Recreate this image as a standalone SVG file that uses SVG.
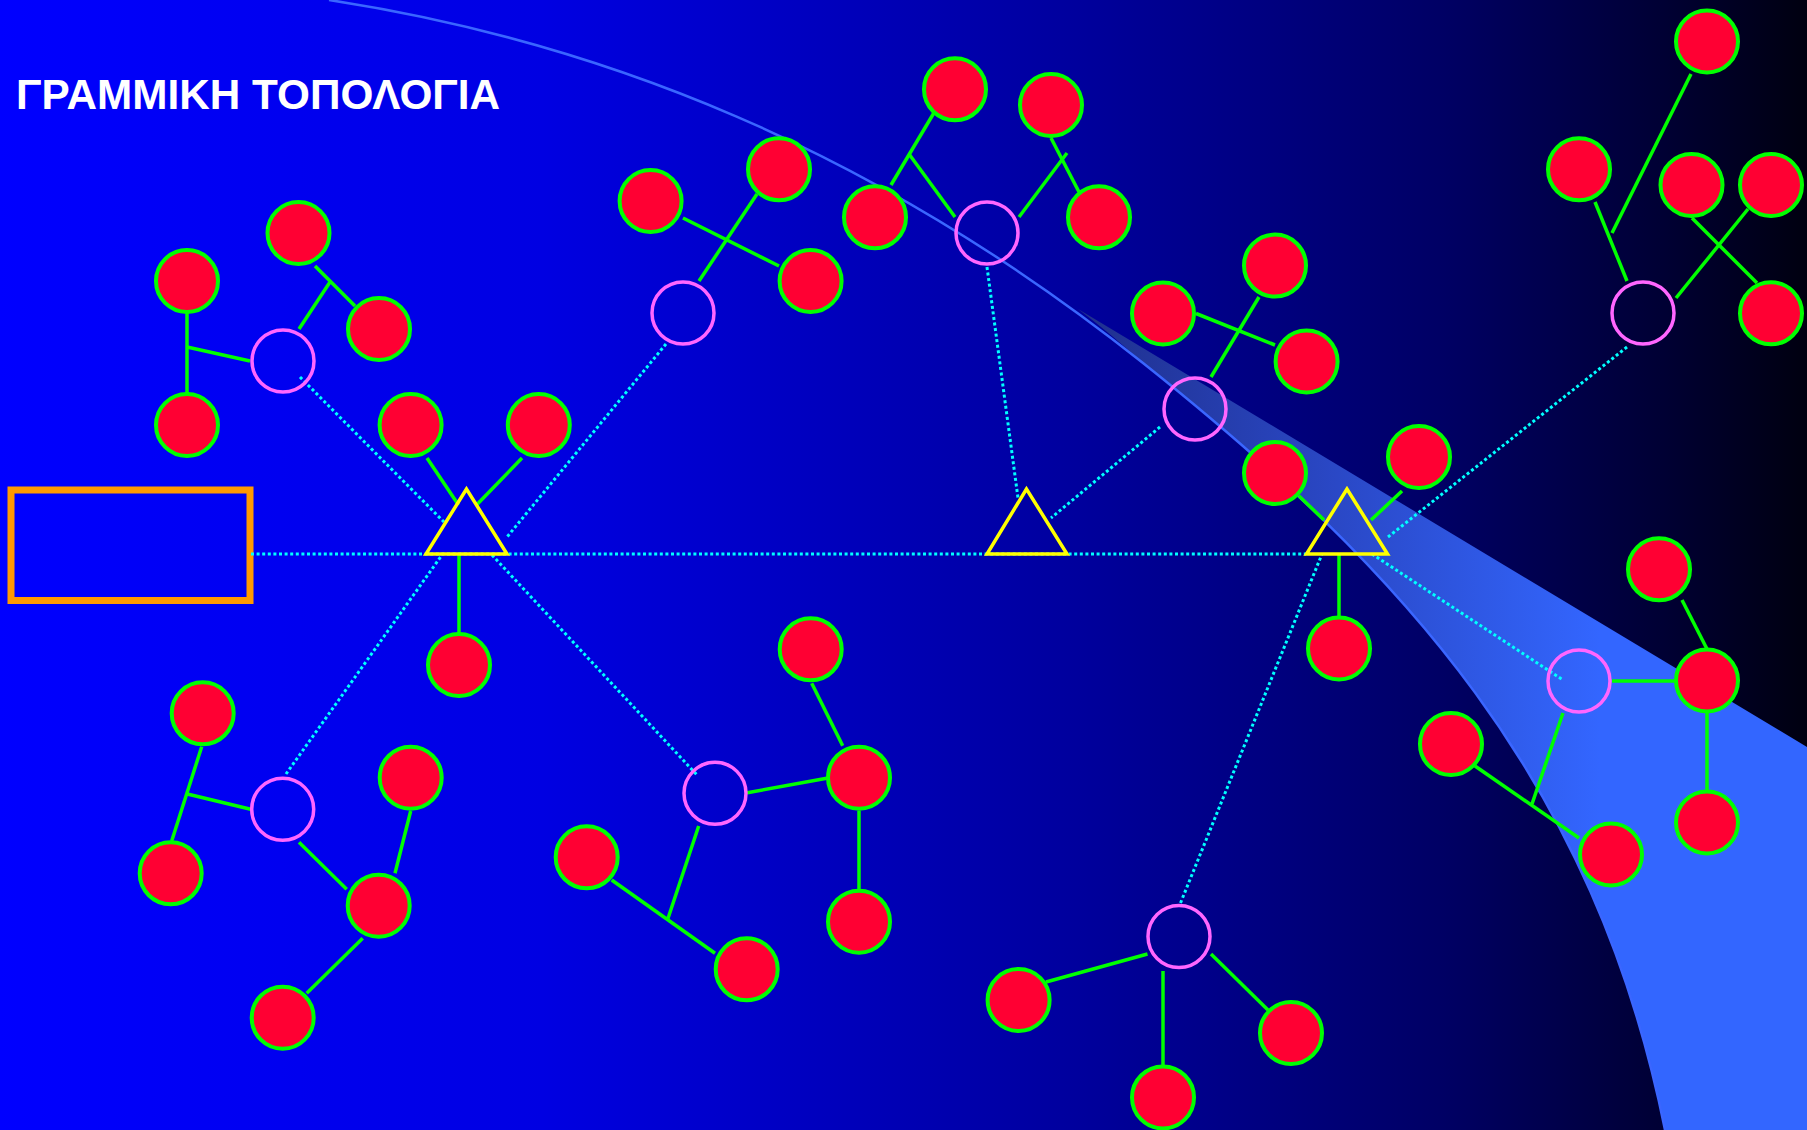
<svg xmlns="http://www.w3.org/2000/svg" width="1807" height="1130" viewBox="0 0 1807 1130">
<defs>
<linearGradient id="bg" x1="0" y1="0" x2="1807" y2="0" gradientUnits="userSpaceOnUse">
<stop offset="0" stop-color="#0000ff"/>
<stop offset="0.3" stop-color="#0000e2"/>
<stop offset="0.6" stop-color="#00009c"/>
<stop offset="0.8" stop-color="#000064"/>
<stop offset="0.92" stop-color="#000034"/>
<stop offset="1" stop-color="#000010"/>
</linearGradient>
<linearGradient id="band" x1="1075" y1="0" x2="1600" y2="0" gradientUnits="userSpaceOnUse">
<stop offset="0" stop-color="#1f2f8c"/>
<stop offset="0.5" stop-color="#2a48c6"/>
<stop offset="1" stop-color="#3366ff"/>
</linearGradient>
<style>
.red{fill:#ff0033;stroke:#00ff00;stroke-width:4}
.hub{fill:none;stroke:#ff66ff;stroke-width:3.5}
.tri{fill:none;stroke:#ffff00;stroke-width:3.5;stroke-linejoin:miter}
.g{stroke:#00ff00;stroke-width:3.5;fill:none}
.d{stroke:#00ffff;stroke-width:3;stroke-dasharray:3 2.6;fill:none}
.title{font-family:"Liberation Sans",Arial,sans-serif;font-weight:bold;font-size:43px;fill:#ffffff}
</style>
</defs>
<rect x="0" y="0" width="1807" height="1130" fill="url(#bg)"/>
<path d="M1078,309 Q1111,334 1143,363 C1403,570 1595,780 1665,1130 L1807,1130 L1807,747 Z" fill="url(#band)"/>
<path d="M329,0 C600,41.7 872,147.5 1143,363 C1403,570 1595,780 1665,1130" fill="none" stroke="#3a66ff" stroke-width="2.5"/>
<text class="title" x="16" y="109" textLength="484" lengthAdjust="spacingAndGlyphs">ΓΡΑΜΜΙΚΗ ΤΟΠΟΛΟΓΙΑ</text>
<g id="server"><rect x="11" y="490" width="239" height="110.5" fill="none" stroke="#ff9900" stroke-width="7"/></g>
<g id="connectors">
<line class="d" x1="251" y1="554" x2="1306" y2="554"/>
<line class="d" x1="300" y1="377" x2="444" y2="522"/>
<line class="d" x1="666" y1="344" x2="507" y2="537"/>
<line class="d" x1="286" y1="774" x2="442" y2="555"/>
<line class="d" x1="492" y1="555" x2="697" y2="775"/>
<line class="d" x1="987" y1="267" x2="1018" y2="498"/>
<line class="d" x1="1160" y1="427" x2="1051" y2="518"/>
<line class="d" x1="1627" y1="347" x2="1388" y2="537"/>
<line class="d" x1="1372" y1="554" x2="1563" y2="680"/>
<line class="d" x1="1180.5" y1="903" x2="1322" y2="554"/>
<line class="g" x1="187" y1="312" x2="187" y2="394"/>
<line class="g" x1="187" y1="347" x2="250" y2="361"/>
<line class="g" x1="315" y1="266" x2="355" y2="306"/>
<line class="g" x1="330" y1="282" x2="299" y2="329"/>
<line class="g" x1="683" y1="218" x2="779" y2="266"/>
<line class="g" x1="757" y1="194" x2="699" y2="281"/>
<line class="g" x1="938" y1="106" x2="891" y2="185"/>
<line class="g" x1="909" y1="154" x2="955" y2="217"/>
<line class="g" x1="1051" y1="138" x2="1079" y2="192"/>
<line class="g" x1="1067" y1="153" x2="1019" y2="217"/>
<line class="g" x1="1196" y1="313.5" x2="1275" y2="345"/>
<line class="g" x1="1259" y1="297" x2="1211" y2="377"/>
<line class="g" x1="1299" y1="496" x2="1324" y2="520"/>
<line class="g" x1="1402" y1="491" x2="1371" y2="520"/>
<line class="g" x1="1339" y1="554" x2="1339" y2="618"/>
<line class="g" x1="1691" y1="74" x2="1612" y2="233"/>
<line class="g" x1="1595" y1="202" x2="1627" y2="281"/>
<line class="g" x1="1692" y1="218" x2="1757" y2="283"/>
<line class="g" x1="1748" y1="209" x2="1676" y2="298"/>
<line class="g" x1="1612" y1="681" x2="1676" y2="681"/>
<line class="g" x1="1682" y1="600" x2="1707" y2="649"/>
<line class="g" x1="1707" y1="712" x2="1707" y2="791"/>
<line class="g" x1="1563" y1="713" x2="1532" y2="804"/>
<line class="g" x1="1475" y1="766" x2="1579" y2="838"/>
<line class="g" x1="1147.5" y1="954" x2="1046" y2="982"/>
<line class="g" x1="1163" y1="971" x2="1163" y2="1066"/>
<line class="g" x1="1211" y1="954" x2="1268" y2="1010"/>
<line class="g" x1="427" y1="458" x2="458.5" y2="505"/>
<line class="g" x1="522" y1="458" x2="476.5" y2="505"/>
<line class="g" x1="459" y1="554" x2="459" y2="633"/>
<line class="g" x1="201.7" y1="746.7" x2="171.7" y2="841"/>
<line class="g" x1="187.3" y1="794" x2="250.7" y2="809.3"/>
<line class="g" x1="299" y1="842.3" x2="346.7" y2="889.3"/>
<line class="g" x1="410.7" y1="811" x2="395" y2="873.3"/>
<line class="g" x1="362.7" y1="938.3" x2="306.7" y2="993.3"/>
<line class="g" x1="811.7" y1="683.3" x2="842.7" y2="745.7"/>
<line class="g" x1="747.3" y1="792.7" x2="826.7" y2="778.3"/>
<line class="g" x1="859" y1="810.7" x2="859" y2="889"/>
<line class="g" x1="698.7" y1="826" x2="667.7" y2="919.3"/>
<line class="g" x1="611.7" y1="880" x2="715" y2="953.3"/>
</g>
<g id="t1"><polygon class="tri" points="466.5,489 426,554 507,554"/></g>
<g id="t2"><polygon class="tri" points="1026.5,489 987,554 1067,554"/></g>
<g id="t3"><polygon class="tri" points="1347,489 1306.5,554 1387.5,554"/></g>
<g id="h1"><circle class="hub" cx="283" cy="361" r="31"/></g>
<g id="h2"><circle class="hub" cx="683" cy="313" r="31"/></g>
<g id="h3"><circle class="hub" cx="987" cy="233" r="31"/></g>
<g id="h4"><circle class="hub" cx="1195" cy="409" r="31"/></g>
<g id="h5"><circle class="hub" cx="1643" cy="313" r="31"/></g>
<g id="h6"><circle class="hub" cx="1579" cy="681" r="31"/></g>
<g id="h7"><circle class="hub" cx="1179" cy="936.5" r="31"/></g>
<g id="h8"><circle class="hub" cx="282.7" cy="809.3" r="31"/></g>
<g id="h9"><circle class="hub" cx="715" cy="793.3" r="31"/></g>
<g id="a1"><circle class="red" cx="187" cy="281" r="31"/></g>
<g id="a2"><circle class="red" cx="298.5" cy="233" r="31"/></g>
<g id="a3"><circle class="red" cx="379" cy="329" r="31"/></g>
<g id="a4"><circle class="red" cx="187" cy="425" r="31"/></g>
<g id="b1"><circle class="red" cx="650.6" cy="201" r="31"/></g>
<g id="b2"><circle class="red" cx="779" cy="169.3" r="31"/></g>
<g id="b3"><circle class="red" cx="810.6" cy="281" r="31"/></g>
<g id="c1"><circle class="red" cx="955" cy="89.3" r="31"/></g>
<g id="c2"><circle class="red" cx="875" cy="217.3" r="31"/></g>
<g id="c3"><circle class="red" cx="1051" cy="105" r="31"/></g>
<g id="c4"><circle class="red" cx="1099" cy="217.3" r="31"/></g>
<g id="d1"><circle class="red" cx="1163" cy="313.5" r="31"/></g>
<g id="d2"><circle class="red" cx="1275" cy="265.6" r="31"/></g>
<g id="d3"><circle class="red" cx="1306.6" cy="361.5" r="31"/></g>
<g id="e1"><circle class="red" cx="1275" cy="473" r="31"/></g>
<g id="e2"><circle class="red" cx="1419" cy="457" r="31"/></g>
<g id="e3"><circle class="red" cx="1339" cy="648.5" r="31"/></g>
<g id="f1"><circle class="red" cx="1707" cy="41.5" r="31"/></g>
<g id="f2"><circle class="red" cx="1579" cy="169.3" r="31"/></g>
<g id="f3"><circle class="red" cx="1691.5" cy="185" r="31"/></g>
<g id="f4"><circle class="red" cx="1771" cy="185" r="31"/></g>
<g id="f5"><circle class="red" cx="1771" cy="313.3" r="31"/></g>
<g id="g1"><circle class="red" cx="1659" cy="569.3" r="31"/></g>
<g id="g2"><circle class="red" cx="1707" cy="680.5" r="31"/></g>
<g id="g3"><circle class="red" cx="1707" cy="822.5" r="31"/></g>
<g id="g4"><circle class="red" cx="1451" cy="744" r="31"/></g>
<g id="g5"><circle class="red" cx="1611" cy="854.5" r="31"/></g>
<g id="hh1"><circle class="red" cx="1018.6" cy="1000" r="31"/></g>
<g id="hh2"><circle class="red" cx="1163" cy="1097.4" r="31"/></g>
<g id="hh3"><circle class="red" cx="1291" cy="1033" r="31"/></g>
<g id="i1"><circle class="red" cx="410.6" cy="425" r="31"/></g>
<g id="i2"><circle class="red" cx="538.8" cy="425" r="31"/></g>
<g id="i3"><circle class="red" cx="459" cy="665" r="31"/></g>
<g id="j1"><circle class="red" cx="202.7" cy="713.3" r="31"/></g>
<g id="j2"><circle class="red" cx="170.7" cy="873.3" r="31"/></g>
<g id="j3"><circle class="red" cx="410.7" cy="777.7" r="31"/></g>
<g id="j4"><circle class="red" cx="378.7" cy="905.7" r="31"/></g>
<g id="j5"><circle class="red" cx="282.7" cy="1017.7" r="31"/></g>
<g id="k1"><circle class="red" cx="810.7" cy="649.3" r="31"/></g>
<g id="k2"><circle class="red" cx="859" cy="777.7" r="31"/></g>
<g id="k3"><circle class="red" cx="859" cy="921.7" r="31"/></g>
<g id="k4"><circle class="red" cx="586.7" cy="857.3" r="31"/></g>
<g id="k5"><circle class="red" cx="746.7" cy="969.3" r="31"/></g>
</svg>
